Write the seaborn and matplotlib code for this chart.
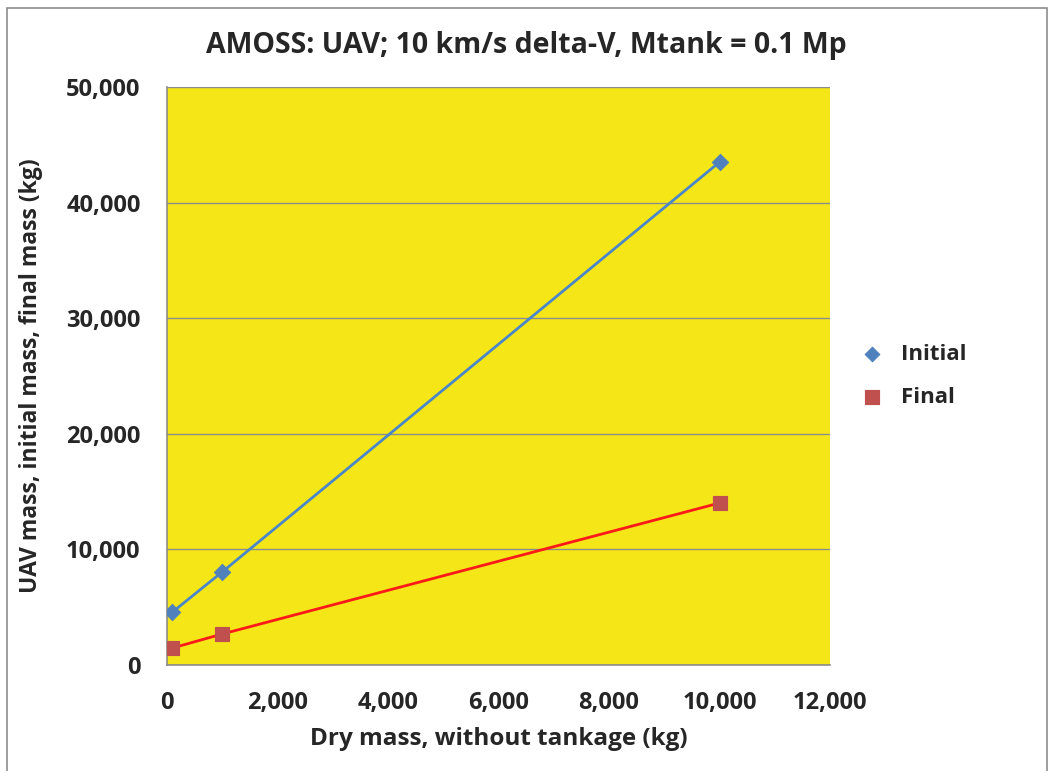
import numpy as np
import pandas as pd
import matplotlib
matplotlib.use("Agg")
import matplotlib.pyplot as plt
from matplotlib.patches import Rectangle
from matplotlib.ticker import FuncFormatter
import seaborn as sns

dry_mass = [100, 1000, 10000]
initial_mass = [4580, 8050, 43500]
final_mass = [1470, 2680, 14010]

sns.set_theme(style="white")
plt.rcParams["font.family"] = ["Open Sans", "DejaVu Sans"]
plt.rcParams["font.weight"] = "bold"

df = pd.DataFrame({"dry": dry_mass, "Initial": initial_mass, "Final": final_mass})

fig = plt.figure(figsize=(10.52, 7.71), dpi=100)
ax = fig.add_axes([0.1587, 0.1375, 0.6303, 0.7497])
ax.set_facecolor("#F5E717")

sns.lineplot(data=df, x="dry", y="Initial", color="#4A86C8", lw=2, ax=ax, zorder=3)
sns.lineplot(data=df, x="dry", y="Final", color="#FF1A1A", lw=2, ax=ax, zorder=3)
sns.scatterplot(data=df, x="dry", y="Initial", marker="D", s=70, color="#4F81BD",
                edgecolor="#4F81BD", ax=ax, zorder=4, label="Initial")
sns.scatterplot(data=df, x="dry", y="Final", marker="s", s=110, color="#C0504D",
                edgecolor="#C0504D", ax=ax, zorder=4, label="Final")

ax.set_xlim(0, 12000)
ax.set_ylim(0, 50000)
ax.set_xticks(np.arange(0, 12001, 2000))
ax.set_yticks(np.arange(0, 50001, 10000))
fmt = FuncFormatter(lambda v, p: f"{int(v):,}")
ax.xaxis.set_major_formatter(fmt)
ax.yaxis.set_major_formatter(fmt)
ax.tick_params(labelsize=17, length=0)
ax.tick_params(axis="x", pad=19)
ax.tick_params(axis="y", pad=19)
for lab in ax.get_xticklabels() + ax.get_yticklabels():
    lab.set_fontweight("bold")
ax.yaxis.grid(True, color="#8c8c8c", lw=1)
ax.set_axisbelow(True)
for s in ["top", "right"]:
    ax.spines[s].set_visible(False)
for s in ["left", "bottom"]:
    ax.spines[s].set_color("#8c8c8c")
    ax.spines[s].set_linewidth(1.2)

ax.set_xlabel("Dry mass, without tankage (kg)", fontsize=17.5, fontweight="bold")
ax.set_ylabel("UAV mass, initial mass, final mass (kg)", fontsize=16.5, fontweight="bold")
ax.xaxis.set_label_coords(0.5, -0.108)
ax.yaxis.set_label_coords(-0.187, 0.5)
fig.suptitle("AMOSS: UAV; 10 km/s delta-V, Mtank = 0.1 Mp", fontsize=20.5,
             fontweight="bold", y=0.96)

ax.legend(loc="center left", bbox_to_anchor=(1.0, 0.5), frameon=False,
          prop={"weight": "bold", "size": 16}, handletextpad=0.3,
          labelspacing=1.0, markerscale=0.9)

fig.patches.append(Rectangle((0.0067, -0.01), 0.9886, 1.0, transform=fig.transFigure,
                             fill=False, edgecolor="#8c8c8c", lw=1.2))

fig.savefig("out.png", dpi=100)
